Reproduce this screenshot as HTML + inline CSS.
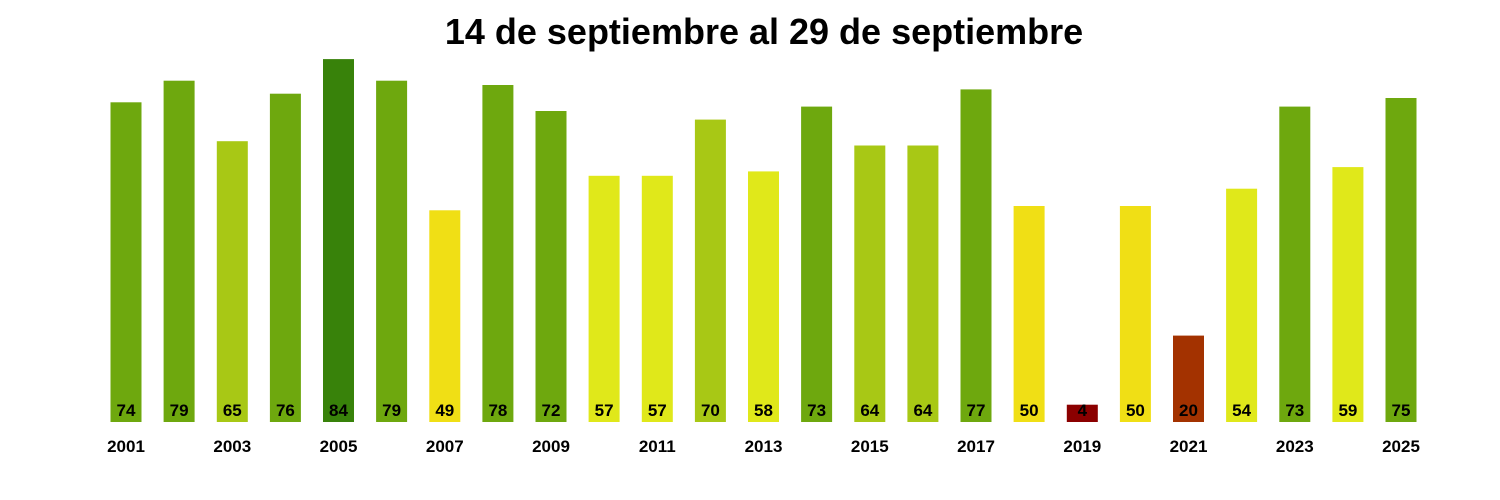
<!DOCTYPE html>
<html><head><meta charset="utf-8"><style>
body{margin:0;background:#fff;}
svg{display:block;font-family:"Liberation Sans",Arial,sans-serif;font-weight:bold;}
</style></head><body>
<svg width="1500" height="500" xmlns="http://www.w3.org/2000/svg">
<rect width="1500" height="500" fill="#fff"/>
<text x="764" y="44" font-size="36" text-anchor="middle">14 de septiembre al 29 de septiembre</text>
<g>
<rect x="110.5" y="102.3" width="31" height="319.7" fill="#6ea80e"/>
<rect x="163.6" y="80.7" width="31" height="341.3" fill="#6ea80e"/>
<rect x="216.8" y="141.2" width="31" height="280.8" fill="#a8c815"/>
<rect x="269.9" y="93.7" width="31" height="328.3" fill="#6ea80e"/>
<rect x="323" y="59.1" width="31" height="362.9" fill="#38820a"/>
<rect x="376.1" y="80.7" width="31" height="341.3" fill="#6ea80e"/>
<rect x="429.3" y="210.3" width="31" height="211.7" fill="#f0df15"/>
<rect x="482.4" y="85" width="31" height="337" fill="#6ea80e"/>
<rect x="535.5" y="111" width="31" height="311" fill="#6ea80e"/>
<rect x="588.6" y="175.8" width="31" height="246.2" fill="#e0e81a"/>
<rect x="641.8" y="175.8" width="31" height="246.2" fill="#e0e81a"/>
<rect x="694.9" y="119.6" width="31" height="302.4" fill="#a8c815"/>
<rect x="748" y="171.4" width="31" height="250.6" fill="#e0e81a"/>
<rect x="801.1" y="106.6" width="31" height="315.4" fill="#6ea80e"/>
<rect x="854.3" y="145.5" width="31" height="276.5" fill="#a8c815"/>
<rect x="907.4" y="145.5" width="31" height="276.5" fill="#a8c815"/>
<rect x="960.5" y="89.4" width="31" height="332.6" fill="#6ea80e"/>
<rect x="1013.6" y="206" width="31" height="216" fill="#f0df15"/>
<rect x="1066.8" y="404.7" width="31" height="17.3" fill="#8b0000"/>
<rect x="1119.9" y="206" width="31" height="216" fill="#f0df15"/>
<rect x="1173" y="335.6" width="31" height="86.4" fill="#a33200"/>
<rect x="1226.1" y="188.7" width="31" height="233.3" fill="#e0e81a"/>
<rect x="1279.3" y="106.6" width="31" height="315.4" fill="#6ea80e"/>
<rect x="1332.4" y="167.1" width="31" height="254.9" fill="#e0e81a"/>
<rect x="1385.5" y="98" width="31" height="324" fill="#6ea80e"/>
</g>
<g font-size="17" text-anchor="middle">
<text x="126" y="416">74</text>
<text x="179.1" y="416">79</text>
<text x="232.3" y="416">65</text>
<text x="285.4" y="416">76</text>
<text x="338.5" y="416">84</text>
<text x="391.6" y="416">79</text>
<text x="444.8" y="416">49</text>
<text x="497.9" y="416">78</text>
<text x="551" y="416">72</text>
<text x="604.1" y="416">57</text>
<text x="657.3" y="416">57</text>
<text x="710.4" y="416">70</text>
<text x="763.5" y="416">58</text>
<text x="816.6" y="416">73</text>
<text x="869.8" y="416">64</text>
<text x="922.9" y="416">64</text>
<text x="976" y="416">77</text>
<text x="1029.1" y="416">50</text>
<text x="1082.3" y="416">4</text>
<text x="1135.4" y="416">50</text>
<text x="1188.5" y="416">20</text>
<text x="1241.6" y="416">54</text>
<text x="1294.8" y="416">73</text>
<text x="1347.9" y="416">59</text>
<text x="1401" y="416">75</text>
</g>
<g font-size="17" text-anchor="middle">
<text x="126" y="452">2001</text>
<text x="232.3" y="452">2003</text>
<text x="338.5" y="452">2005</text>
<text x="444.8" y="452">2007</text>
<text x="551" y="452">2009</text>
<text x="657.3" y="452">2011</text>
<text x="763.5" y="452">2013</text>
<text x="869.8" y="452">2015</text>
<text x="976" y="452">2017</text>
<text x="1082.3" y="452">2019</text>
<text x="1188.5" y="452">2021</text>
<text x="1294.8" y="452">2023</text>
<text x="1401" y="452">2025</text>
</g>
</svg>
</body></html>
